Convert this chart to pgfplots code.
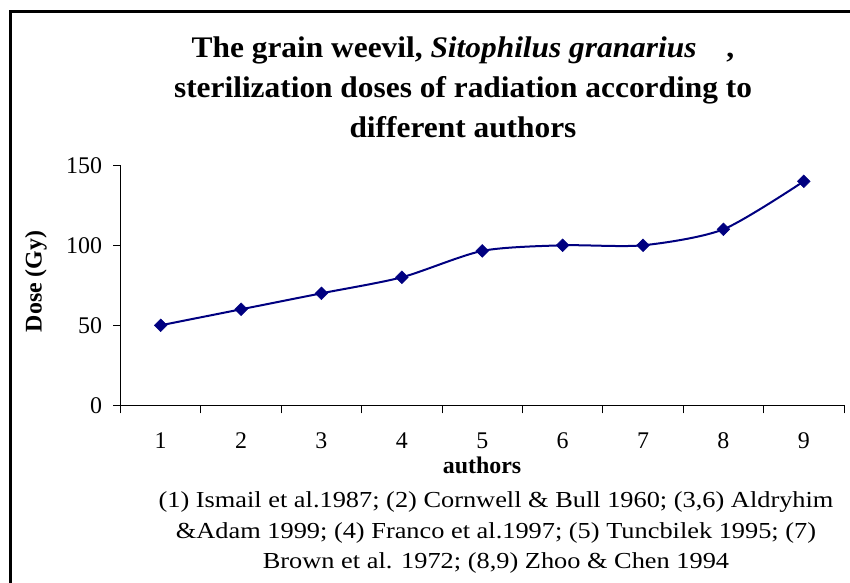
\documentclass[border=0pt]{standalone}
\usepackage{fontspec}
\setmainfont{Liberation Serif}
\newfontfamily\titlefont[FakeStretch=1.05]{Liberation Serif}
\newfontfamily\notefont[FakeStretch=1.15]{Liberation Serif}
\usepackage{pgfplots}
\pgfplotsset{compat=1.18}
\definecolor{navyline}{RGB}{0,0,128}
\pgfplotstableread{
x y
1 50
2 60
3 70
4 80
5 96.5
6 100
7 100
8 110
9 140
}\dosedata
\begin{document}
\begin{tikzpicture}[x=1bp,y=1bp]
\useasboundingbox (-120.5,-177.7) rectangle (729.5,405.3);
\draw[line width=3bp] (-110,-190) -- (-110,393.3) -- (740,393.3);
\begin{axis}[
  at={(0,0)}, anchor=south west,
  scale only axis, width=723.5bp, height=240bp,
  xmin=0.5, xmax=9.5, ymin=0, ymax=150,
  axis lines*=left,
  axis line style={black, line width=0.8bp},
  xtick={1,...,9},
  minor xtick={0.5,1.5,...,9.5},
  major x tick style={draw=none},
  minor x tick style={black, line width=0.8bp},
  ytick={0,50,100,150},
  major y tick style={black, line width=0.8bp},
  tick align=outside,
  major tick length=7bp,
  minor tick length=8bp,
  /pgf/number format/assume math mode=true,
  tick label style={font=\fontsize{24}{24}\selectfont},
  xticklabel style={anchor=base, yshift=-36bp},
  yticklabel style={anchor=east, xshift=-8bp},
  clip=false,
]
\addplot[navyline, line width=2bp, smooth, tension=0.45,
  mark=square*, mark size=4.5bp,
  mark options={rotate=45, fill=navyline, draw=navyline, line width=0.5bp}]
  table[x=x, y=y] {\dosedata};
\end{axis}
\node[font=\titlefont\bfseries\fontsize{30}{40.5}\selectfont, align=center, anchor=base] at (342.5,267.3)
  {The grain weevil, \textit{Sitophilus granarius}\quad,\\
   sterilization doses of radiation according to\\
   different authors};
\node[font=\bfseries\fontsize{24}{24}\selectfont, rotate=90] at (-84.5,124) {Dose (Gy)};
\node[font=\bfseries\fontsize{24}{24}\selectfont, anchor=base] at (361.5,-68.7) {authors};
\node[font=\notefont\fontsize{23}{30.5}\selectfont, align=center, anchor=base] at (375.5,-163.2)
  {(1) Ismail et al.1987; (2) Cornwell \& Bull 1960; (3,6) Aldryhim\\
   \&Adam 1999; (4) Franco et al.1997; (5) Tuncbilek 1995; (7)\\
   Brown et al. 1972; (8,9) Zhoo \& Chen 1994};
\end{tikzpicture}
\end{document}
